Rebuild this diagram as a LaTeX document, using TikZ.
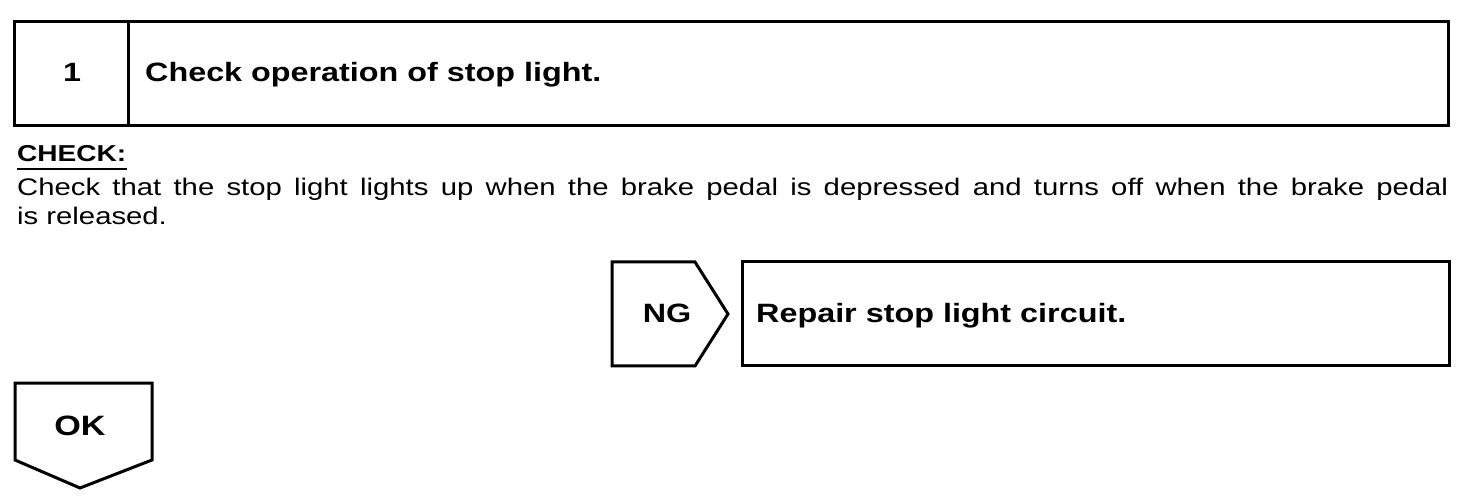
\documentclass[tikz,border=0pt]{standalone}
\usepackage{fontspec}
\setmainfont{Liberation Sans}
\newfontfamily\widefont[FakeStretch=1.22]{Liberation Sans}
\begin{document}
\begin{tikzpicture}[x=1pt,y=-1pt,
  frame/.style={draw=black,line width=3pt,line join=miter},
  boldtxt/.style={font=\widefont\fontsize{26.5}{30}\selectfont\bfseries,inner sep=0pt,anchor=base},
  bodytxt/.style={font=\widefont\fontsize{24}{29}\selectfont,inner sep=0pt,anchor=base west}]
\useasboundingbox (0,0) rectangle (1472,502);
% top step box
\draw[frame] (14,22) rectangle (1448,126);
\draw[frame] (128,22) -- (128,126);
\node[boldtxt] (num) at (72,82) {1};
\node[boldtxt,anchor=base west] (title) at (145,82) {Check operation of stop light.};
% check text
\node[bodytxt,font=\widefont\fontsize{23}{28}\selectfont\bfseries] (chk) at (17,162) {CHECK:};
\draw[line width=2pt] ([yshift=-7pt]chk.base west) -- ([yshift=-7pt]chk.base east);
\node[bodytxt] (l1) at (17,196) {\makebox[1431pt][s]{Check that the stop light lights up when the brake pedal is depressed and turns off when the brake pedal}};
\node[bodytxt] (l2) at (17,225) {is released.};
% NG
\draw[frame] (612,262) -- (695,262) -- (728,314) -- (695,366) -- (612,366) -- cycle;
\node[boldtxt] (ng) at (667,323) {NG};
\draw[frame] (742,262) rectangle (1449,366);
\node[boldtxt,anchor=base west] (rep) at (756,323) {Repair stop light circuit.};
% OK
\draw[frame] (15,383) -- (152,383) -- (152,460) -- (80,488) -- (15,460) -- cycle;
\node[boldtxt,font=\widefont\fontsize{28}{32}\selectfont\bfseries] (ok) at (80,435) {OK};
\end{tikzpicture}
\end{document}
